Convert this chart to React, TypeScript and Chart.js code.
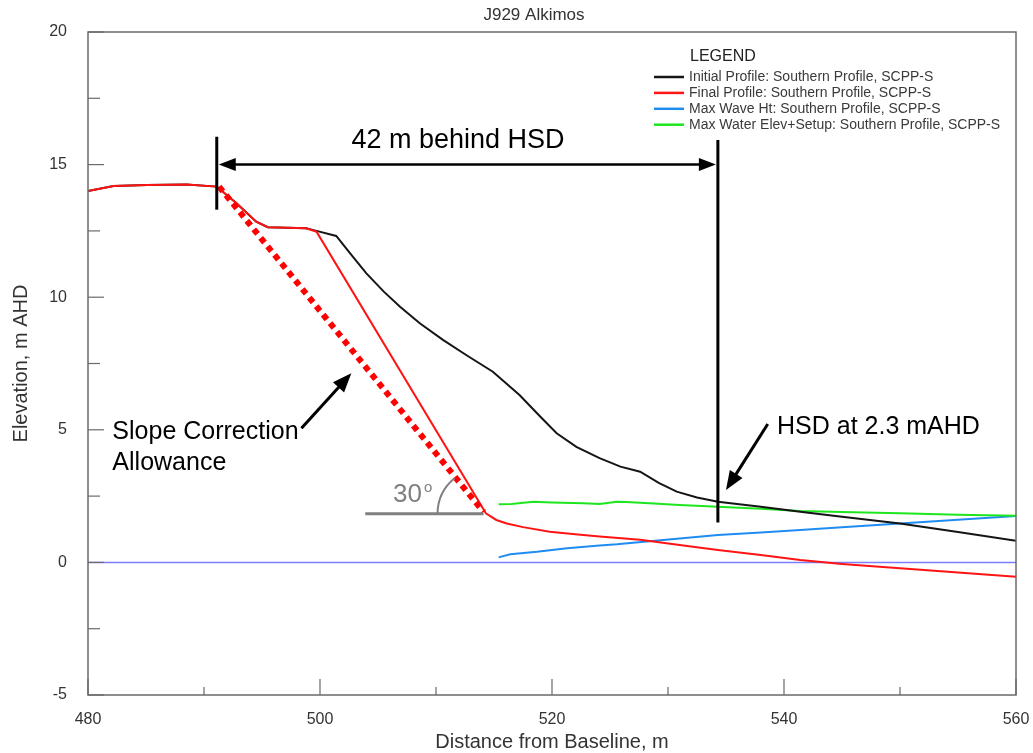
import { useEffect, useRef } from "react";
import { Chart, registerables } from "chart.js";

Chart.register(...registerables);

const FONT = '"Liberation Sans", Arial, Helvetica, sans-serif';

type Pt = [number, number];

// Chainage (m from baseline) and elevation (m AHD) pairs
const initialProfile: Pt[] = [
  [480, 14.0], [482.2, 14.19], [485.1, 14.23], [488.5, 14.25], [491.1, 14.17],
  [492.8, 13.54], [494.5, 12.85], [495.5, 12.64], [498.8, 12.6], [499.7, 12.5],
  [501.4, 12.31], [502.6, 11.65], [504.0, 10.9], [505.5, 10.21], [506.9, 9.64],
  [508.6, 9.02], [510.6, 8.39], [512.6, 7.82], [514.9, 7.19], [517.2, 6.31],
  [519.0, 5.49], [520.4, 4.87], [522.1, 4.36], [524.1, 3.93], [525.9, 3.61],
  [527.6, 3.42], [529.2, 3.0], [530.75, 2.67], [532.5, 2.45], [534.3, 2.29],
  [538, 2.1], [541.4, 1.91], [545, 1.72], [550, 1.47], [555, 1.15], [560, 0.82],
];

const finalProfile: Pt[] = [
  [480, 14.0], [482.2, 14.19], [485.1, 14.23], [488.5, 14.25], [491.1, 14.17],
  [492.8, 13.54], [494.5, 12.85], [495.5, 12.64], [498.8, 12.6], [499.7, 12.47],
  [514.3, 1.85], [515.2, 1.6], [516.1, 1.47], [517.5, 1.33], [519.8, 1.16],
  [522, 1.06], [524.1, 0.98], [527.6, 0.85], [531, 0.66], [534.3, 0.47],
  [538, 0.28], [541.4, 0.09], [545, -0.06], [550, -0.22], [555, -0.38], [560, -0.54],
];

const maxWaveHeight: Pt[] = [
  [515.4, 0.19], [516.4, 0.31], [518.7, 0.4], [520, 0.47], [521.3, 0.53],
  [524.1, 0.64], [525.6, 0.68], [528.4, 0.8], [531, 0.9], [534.3, 1.03],
  [538, 1.13], [541.4, 1.22], [545, 1.33], [550, 1.47], [555, 1.61], [560, 1.75],
];

const maxWaterElevSetup: Pt[] = [
  [515.4, 2.19], [516.5, 2.2], [518.4, 2.29], [520, 2.26], [522.7, 2.23],
  [524.1, 2.2], [525.6, 2.29], [526.4, 2.28], [528.4, 2.23], [531, 2.16],
  [534.3, 2.1], [538, 2.02], [541.4, 1.94], [545, 1.9], [550, 1.85],
  [555, 1.8], [560, 1.76],
];

const zeroDatum: Pt[] = [[480, 0], [560, 0]];

// 30 degree slope correction line from the crest down to the scarp toe
const slopeCorrection: Pt[] = [[491.3, 14.17], [514.1, 1.9]];

const seriesLabels = [
  "Initial Profile: Southern Profile, SCPP-S",
  "Final Profile: Southern Profile, SCPP-S",
  "Max Wave Ht: Southern Profile, SCPP-S",
  "Max Water Elev+Setup: Southern Profile, SCPP-S",
];
const seriesColors = ["#151515", "#ff1414", "#1f8cf2", "#1ee61e"];

const xRange = { min: 480, max: 560, step: 20, minor: 10 };
const yRange = { min: -5, max: 20, step: 5, minor: 2.5 };

// Annotation anchors (data units)
const crestChainage = 491.1;
const hsdChainage = 534.3;
const hsdLevel = 2.3;
const dimensionLevel = 15;
const crestMarkerSpan: Pt = [16.05, 13.3];
const hsdMarkerSpan: Pt = [15.93, 1.5];
const dimensionText = { text: "42 m behind HSD", x: 511.9, y: 15.9 };
const hsdNote = { text: `HSD at ${hsdLevel} mAHD`, x: 539.4, y: 5.12 };
const hsdArrow: [Pt, Pt] = [[538.6, 5.22], [535.0, 2.73]];
const slopeNote = { lines: ["Slope Correction", "Allowance"], x: 482.1, y: 4.93, dy: 1.19 };
const slopeArrow: [Pt, Pt] = [[498.4, 5.06], [502.7, 7.13]];
const angleBase: [Pt, Pt] = [[503.9, 1.83], [514.1, 1.83]];
const angleLabel = { value: "30", x: 506.3, y: 2.54 };

const toPoints = (arr: Pt[]) => arr.map(([x, y]) => ({ x, y }));

function arrowHead(ctx: CanvasRenderingContext2D, x1: number, y1: number, x2: number, y2: number, len: number, half: number) {
  const a = Math.atan2(y2 - y1, x2 - x1);
  const bx = x2 - len * Math.cos(a);
  const by = y2 - len * Math.sin(a);
  ctx.beginPath();
  ctx.moveTo(x2, y2);
  ctx.lineTo(bx + half * Math.sin(a), by - half * Math.cos(a));
  ctx.lineTo(bx - half * Math.sin(a), by + half * Math.cos(a));
  ctx.closePath();
  ctx.fill();
}

function line(ctx: CanvasRenderingContext2D, x1: number, y1: number, x2: number, y2: number) {
  ctx.beginPath();
  ctx.moveTo(x1, y1);
  ctx.lineTo(x2, y2);
  ctx.stroke();
}

const framePlugin = {
  id: "profileFrame",
  afterDraw(chart: any) {
    const { ctx, chartArea: a } = chart;
    const xs = chart.scales.x;
    const ys = chart.scales.y;
    const px = (v: number) => xs.getPixelForValue(v);
    const py = (v: number) => ys.getPixelForValue(v);
    ctx.save();

    // plot frame and inward tick marks
    ctx.strokeStyle = "#6a6a6a";
    ctx.lineWidth = 1.5;
    ctx.strokeRect(a.left, a.top, a.right - a.left, a.bottom - a.top);
    ctx.lineWidth = 1.2;
    for (let v = yRange.min; v <= yRange.max; v += yRange.minor) {
      const len = v % yRange.step === 0 ? 16 : 12;
      line(ctx, a.left, py(v), a.left + len, py(v));
    }
    for (let v = xRange.min; v <= xRange.max; v += xRange.minor) {
      const len = v % xRange.step === 0 ? 16 : 8;
      line(ctx, px(v), a.bottom, px(v), a.bottom - len);
    }

    // titles
    ctx.fillStyle = "#333";
    ctx.textAlign = "center";
    ctx.textBaseline = "middle";
    ctx.font = `17px ${FONT}`;
    ctx.fillText("J929 Alkimos", (a.left + a.right) / 2 - 18, 15);
    ctx.font = `20px ${FONT}`;
    ctx.fillText("Distance from Baseline, m", (a.left + a.right) / 2, 742);
    ctx.save();
    ctx.translate(21, (a.top + a.bottom) / 2);
    ctx.rotate(-Math.PI / 2);
    ctx.fillText("Elevation, m AHD", 0, 0);
    ctx.restore();

    // legend
    const lx = a.right - 362;
    ctx.textAlign = "left";
    ctx.fillStyle = "#222";
    ctx.font = `16px ${FONT}`;
    ctx.fillText("LEGEND", lx + 36, a.top + 25);
    ctx.font = `14px ${FONT}`;
    seriesLabels.forEach((label, i) => {
      const ly = a.top + 45 + i * 15.9;
      ctx.strokeStyle = seriesColors[i];
      ctx.lineWidth = 2.5;
      line(ctx, lx, ly, lx + 30, ly);
      ctx.fillStyle = "#3a3a3a";
      ctx.fillText(label, lx + 35, ly);
    });

    // dimension: 42 m behind HSD
    ctx.strokeStyle = "#000";
    ctx.fillStyle = "#000";
    ctx.lineWidth = 3;
    line(ctx, px(crestChainage), py(crestMarkerSpan[0]), px(crestChainage), py(crestMarkerSpan[1]));
    line(ctx, px(hsdChainage), py(hsdMarkerSpan[0]), px(hsdChainage), py(hsdMarkerSpan[1]));
    ctx.lineWidth = 2.5;
    const dx1 = px(crestChainage) + 2;
    const dx2 = px(hsdChainage) - 2;
    const dy = py(dimensionLevel);
    line(ctx, dx1 + 10, dy, dx2 - 10, dy);
    arrowHead(ctx, dx2, dy, dx1, dy, 17, 6.5);
    arrowHead(ctx, dx1, dy, dx2, dy, 17, 6.5);
    ctx.textAlign = "center";
    ctx.font = `27px ${FONT}`;
    ctx.fillText(dimensionText.text, px(dimensionText.x), py(dimensionText.y));

    // HSD callout
    ctx.textAlign = "left";
    ctx.font = `25px ${FONT}`;
    ctx.fillText(hsdNote.text, px(hsdNote.x), py(hsdNote.y));
    {
      const [[x1, y1], [x2, y2]] = hsdArrow;
      const a1 = px(x1), b1 = py(y1), a2 = px(x2), b2 = py(y2);
      const ang = Math.atan2(b2 - b1, a2 - a1);
      ctx.lineWidth = 3;
      line(ctx, a1, b1, a2 - 12 * Math.cos(ang), b2 - 12 * Math.sin(ang));
      arrowHead(ctx, a1, b1, a2, b2, 19, 7.5);
    }

    // slope correction callout
    slopeNote.lines.forEach((t, i) => {
      ctx.fillText(t, px(slopeNote.x), py(slopeNote.y - i * slopeNote.dy));
    });
    {
      const [[x1, y1], [x2, y2]] = slopeArrow;
      const a1 = px(x1), b1 = py(y1), a2 = px(x2), b2 = py(y2);
      const ang = Math.atan2(b2 - b1, a2 - a1);
      ctx.lineWidth = 3;
      line(ctx, a1, b1, a2 - 12 * Math.cos(ang), b2 - 12 * Math.sin(ang));
      arrowHead(ctx, a1, b1, a2, b2, 19, 7.5);
    }

    // 30 degree angle marker
    ctx.strokeStyle = "#808080";
    ctx.fillStyle = "#808080";
    ctx.lineWidth = 3;
    const gx1 = px(angleBase[0][0]);
    const gx2 = px(angleBase[1][0]);
    const gy = py(angleBase[0][1]);
    line(ctx, gx1, gy, gx2, gy);
    const [[sx1, sy1], [sx2, sy2]] = slopeCorrection;
    const slopeAng = Math.atan2(py(sy2) - py(sy1), px(sx2) - px(sx1));
    ctx.lineWidth = 2;
    ctx.beginPath();
    ctx.arc(gx2, gy, 46, Math.PI, Math.PI + slopeAng);
    ctx.stroke();
    ctx.font = `26px ${FONT}`;
    ctx.textAlign = "left";
    const tx = px(angleLabel.x);
    const ty = py(angleLabel.y);
    ctx.fillText(angleLabel.value, tx, ty);
    const w = ctx.measureText(angleLabel.value).width;
    ctx.font = `15px ${FONT}`;
    ctx.fillText("o", tx + w + 2, ty - 7);

    ctx.restore();
  },
};

export default function App() {
  const canvasRef = useRef<HTMLCanvasElement | null>(null);

  useEffect(() => {
    const canvas = canvasRef.current;
    if (!canvas) return;
    const chart = new Chart(canvas, {
      type: "line",
      data: {
        datasets: [
          {
            label: "Slope Correction Allowance",
            data: toPoints(slopeCorrection),
            borderColor: "#ff0000",
            borderWidth: 6,
            borderDash: [6, 5],
            borderCapStyle: "butt",
            pointRadius: 0,
          },
          {
            label: seriesLabels[1],
            data: toPoints(finalProfile),
            borderColor: seriesColors[1],
            borderWidth: 2,
            pointRadius: 0,
          },
          {
            label: seriesLabels[0],
            data: toPoints(initialProfile),
            borderColor: seriesColors[0],
            borderWidth: 2,
            pointRadius: 0,
          },
          {
            label: seriesLabels[3],
            data: toPoints(maxWaterElevSetup),
            borderColor: seriesColors[3],
            borderWidth: 2,
            pointRadius: 0,
          },
          {
            label: seriesLabels[2],
            data: toPoints(maxWaveHeight),
            borderColor: seriesColors[2],
            borderWidth: 2,
            pointRadius: 0,
          },
          {
            label: "0 m AHD",
            data: toPoints(zeroDatum),
            borderColor: "#7d7dff",
            borderWidth: 1.5,
            pointRadius: 0,
          },
        ],
      },
      options: {
        animation: false,
        responsive: false,
        devicePixelRatio: 1,
        layout: { padding: { top: 32, right: 17, left: 0, bottom: 0 } },
        plugins: {
          legend: { display: false },
          tooltip: { enabled: false },
        },
        scales: {
          x: {
            type: "linear",
            min: xRange.min,
            max: xRange.max,
            grid: { display: false, drawTicks: false },
            border: { display: false },
            ticks: {
              stepSize: xRange.step,
              padding: 15,
              color: "#333",
              font: { family: FONT, size: 16 },
              maxRotation: 0,
            },
            afterFit: (s: any) => {
              s.height = 58;
              s.paddingLeft = 0;
              s.paddingRight = 0;
            },
          },
          y: {
            type: "linear",
            min: yRange.min,
            max: yRange.max,
            grid: { display: false, drawTicks: false },
            border: { display: false },
            ticks: {
              stepSize: yRange.step,
              padding: 21,
              color: "#333",
              font: { family: FONT, size: 16 },
            },
            afterFit: (s: any) => {
              s.width = 88;
              s.paddingTop = 0;
              s.paddingBottom = 0;
            },
          },
        },
      },
      plugins: [framePlugin],
    });
    return () => chart.destroy();
  }, []);

  return (
    <div style={{ position: "absolute", left: 0, top: 0, width: 1033, height: 753, background: "#fff" }}>
      <canvas ref={canvasRef} width={1033} height={753} style={{ display: "block" }} />
    </div>
  );
}
